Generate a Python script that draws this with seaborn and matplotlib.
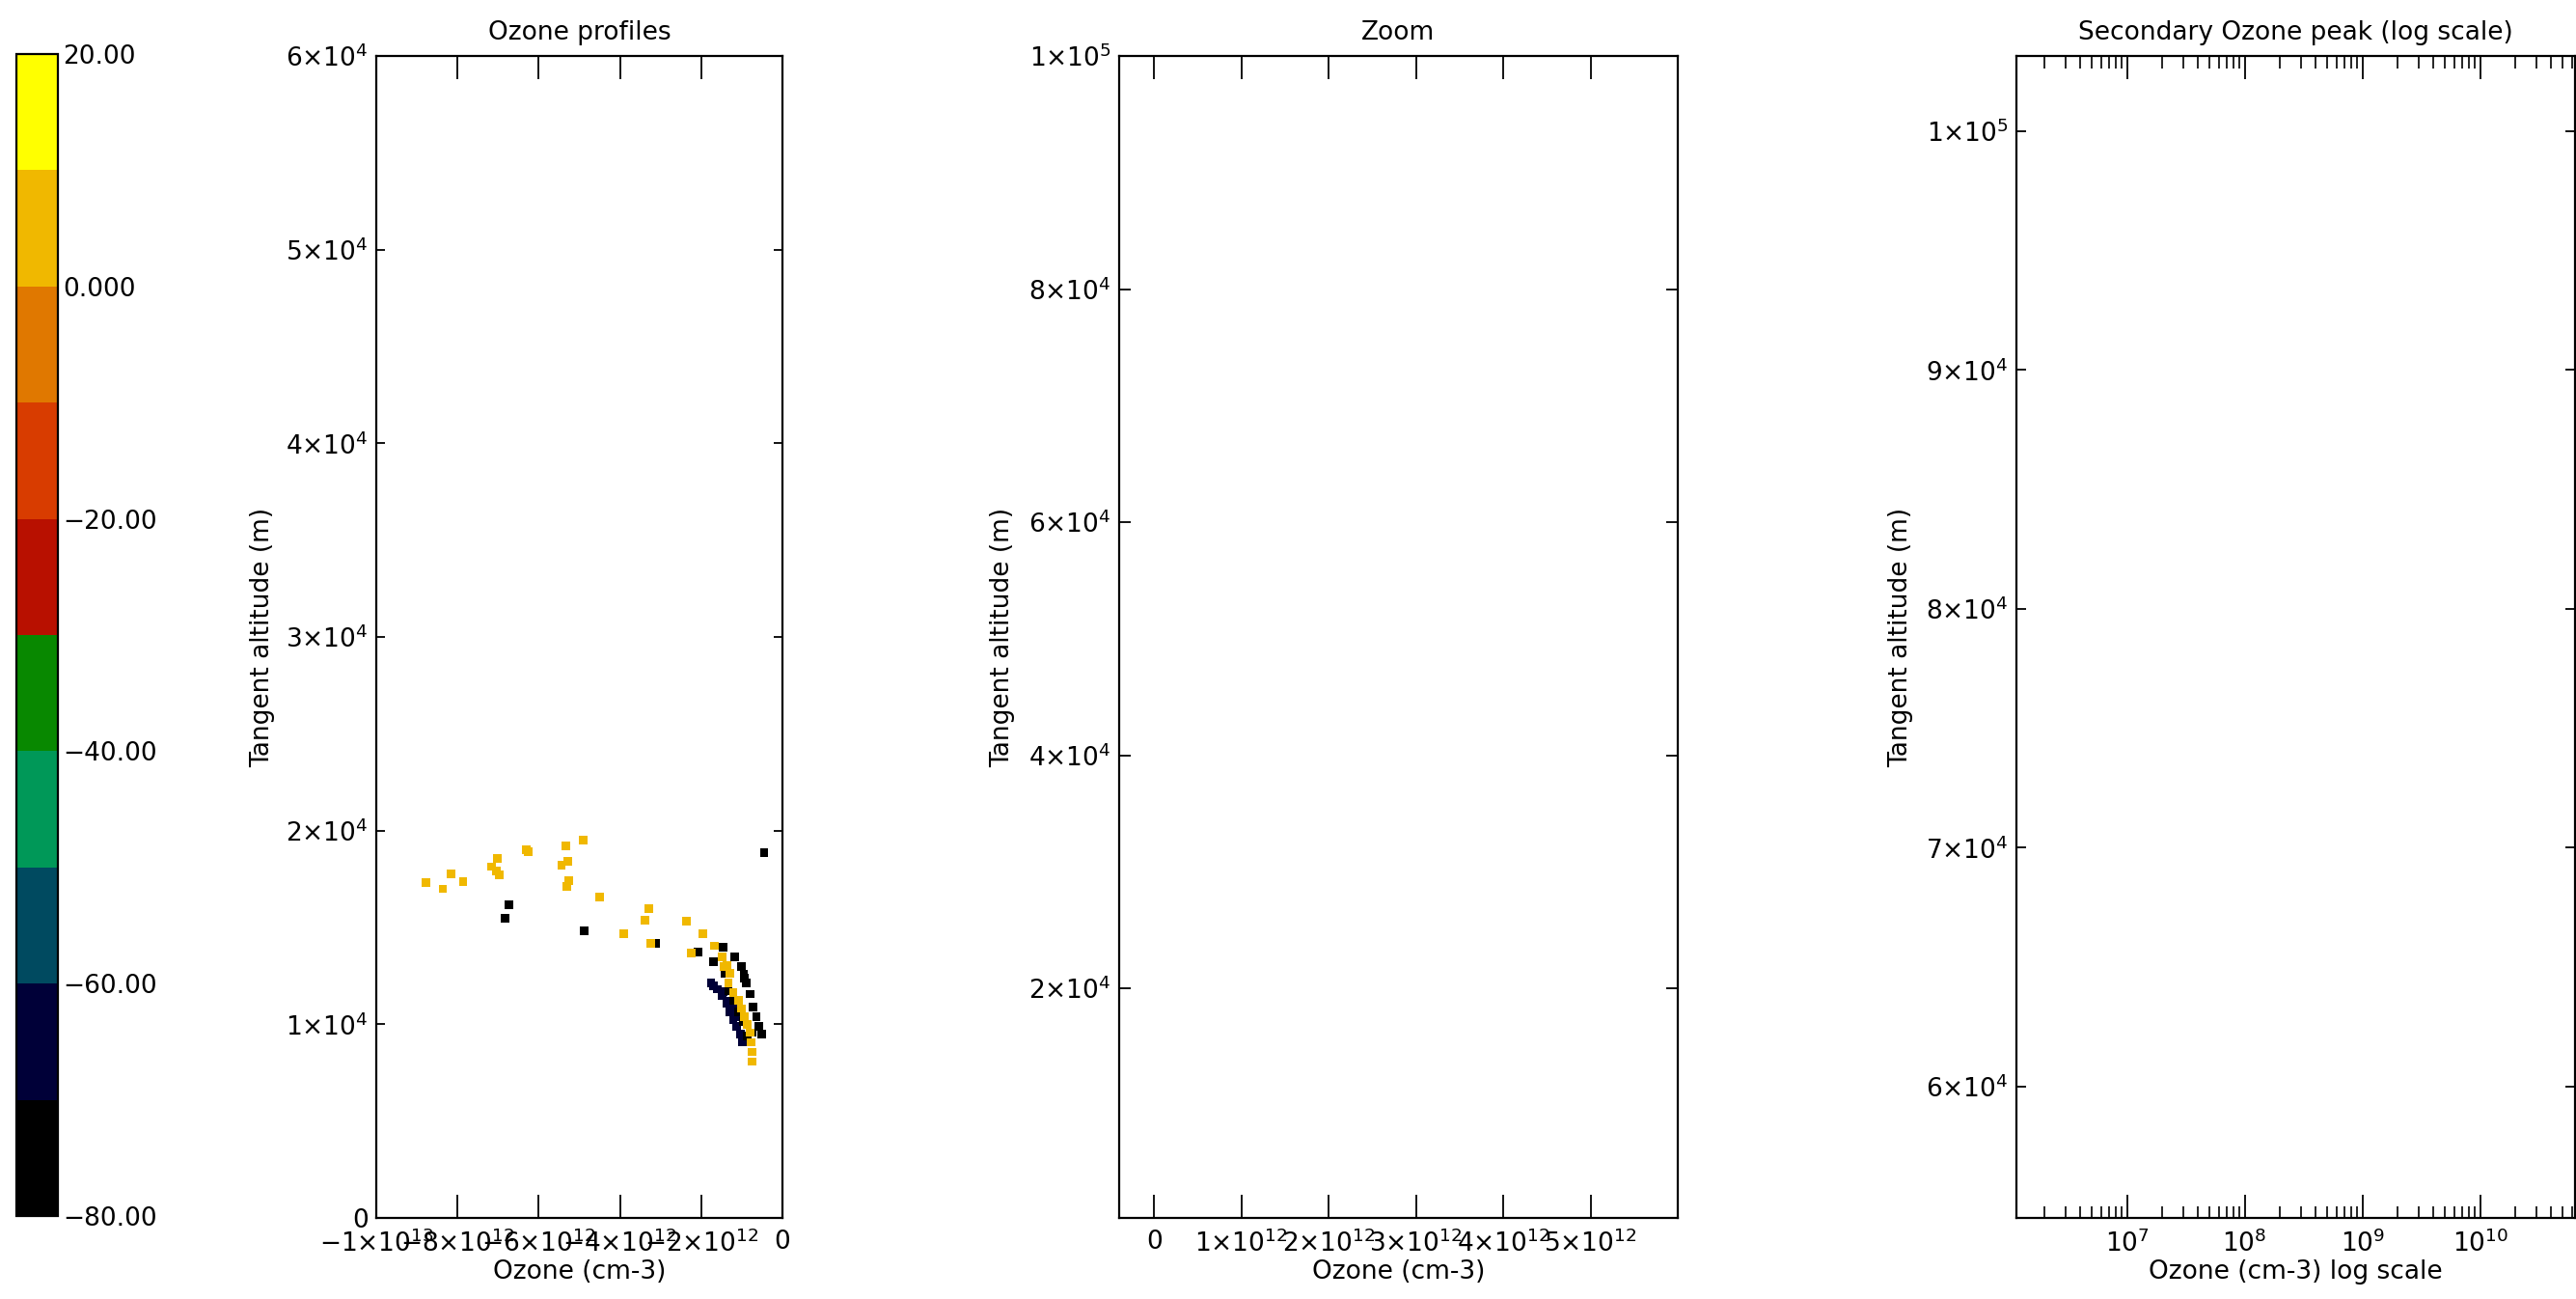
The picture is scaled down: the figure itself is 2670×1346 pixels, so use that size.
"""
plot.py
Ozone profiles coloured by temperature, with a zoom panel and a log-scale
panel for the secondary ozone peak. Writes out.png.
"""

import numpy as np
import pandas as pd
import matplotlib
matplotlib.use("Agg")
import matplotlib.pyplot as plt
import seaborn as sns
from matplotlib.colors import ListedColormap, BoundaryNorm
from matplotlib.cm import ScalarMappable
from matplotlib.ticker import FuncFormatter, FixedLocator, LogLocator, NullFormatter

sns.set_theme(style="ticks", rc={"axes.edgecolor": "black", "axes.linewidth": 1.6,
                                 "xtick.color": "black", "ytick.color": "black",
                                 "text.color": "black", "axes.labelcolor": "black"})
plt.rcParams["font.family"] = ["DejaVu Sans"]
plt.rcParams["mathtext.fontset"] = "dejavusans"

# colour scale: temperature bins
bin_edges = [-80, -70, -60, -50, -40, -30, -20, -10, 0, 10, 20]
bin_colors = ["#000000", "#000038", "#004a60", "#009858", "#088800",
              "#b81000", "#d83c00", "#e07800", "#f0b800", "#ffff00"]
cbar_labels = ["−80.00", "", "−60.00", "", "−40.00", "", "−20.00", "", "0.000", "", "20.00"]

# profile points, ozone in 1e12 cm-3, altitude in 1e4 m
amber_ozone = [-8.78, -8.36, -8.16, -7.86, -7.16, -7.01, -7.05, -6.98, -6.30, -6.26,
               -5.33, -5.44, -5.29, -5.26, -5.30, -4.90, -4.51, -3.90, -3.38, -3.29,
               -3.24, -2.36, -1.96, -1.67, -2.24, -1.49, -1.37, -1.29, -1.33, -1.45,
               -1.21, -1.09, -1.01, -0.93, -0.86, -0.80, -0.78, -0.75, -0.74]
amber_alt = [1.731, 1.699, 1.775, 1.735, 1.814, 1.855, 1.790, 1.770, 1.903, 1.890,
             1.920, 1.823, 1.840, 1.743, 1.711, 1.950, 1.658, 1.469, 1.536, 1.596,
             1.419, 1.533, 1.466, 1.405, 1.369, 1.347, 1.305, 1.264, 1.214, 1.300,
             1.164, 1.122, 1.081, 1.039, 0.998, 0.957, 0.907, 0.857, 0.807]

black_ozone = [-0.45, -6.74, -6.83, -4.88, -3.13, -2.08, -1.47, -1.69, -1.17, -1.01,
               -1.41, -1.33, -1.21, -1.09, -0.97, -0.89, -0.80, -0.72, -0.64, -0.58,
               -0.52, -0.74, -0.86, -0.93, -0.95]
black_alt = [1.885, 1.616, 1.549, 1.483, 1.419, 1.372, 1.397, 1.322, 1.347, 1.297,
             1.264, 1.172, 1.122, 1.064, 1.014, 1.214, 1.156, 1.090, 1.039, 0.989,
             0.948, 0.957, 0.940, 1.239, 1.260]

navy_ozone = [-1.76, -1.70, -1.60, -1.49, -1.37, -1.29, -1.21, -1.13, -1.04, -0.99,
              -1.21, -1.10, -1.45, -1.30]
navy_alt = [1.214, 1.200, 1.181, 1.148, 1.106, 1.064, 1.023, 0.989, 0.948, 0.907,
            1.081, 1.040, 1.170, 1.120]

# temperature of each group (bin centre)
amber_temp = 5
black_temp = -75
navy_temp = -65

W, H = 2670, 1346


def frac(left, right, top, bottom):
    return [left / W, (H - bottom) / H, (right - left) / W, (bottom - top) / H]


def sci_label(v, pos):
    if v == 0:
        return "0"
    e = int(np.floor(np.log10(abs(v)) + 1e-9))
    m = int(round(v / 10**e))
    return r"$%d{\times}10^{%d}$" % (m, e)


def style_axes(ax, xlen, ylen):
    ax.tick_params(which="major", direction="in", top=True, right=True,
                   width=1.3, labelsize=19, pad=9)
    ax.tick_params(axis="x", which="major", length=xlen)
    ax.tick_params(axis="y", which="major", length=ylen, pad=6)
    for sp in ax.spines.values():
        sp.set_linewidth(1.6)
        sp.set_color("black")


def main():
    cmap = ListedColormap(bin_colors)
    norm = BoundaryNorm(bin_edges, cmap.N)

    df = pd.concat([
        pd.DataFrame({"ozone": np.array(navy_ozone) * 1e12,
                      "alt": np.array(navy_alt) * 1e4, "temp": navy_temp}),
        pd.DataFrame({"ozone": np.array(black_ozone) * 1e12,
                      "alt": np.array(black_alt) * 1e4, "temp": black_temp}),
        pd.DataFrame({"ozone": np.array(amber_ozone) * 1e12,
                      "alt": np.array(amber_alt) * 1e4, "temp": amber_temp}),
    ], ignore_index=True)

    fig = plt.figure(figsize=(W / 100, H / 100), dpi=100)
    fig.patch.set_facecolor("white")

    cax = fig.add_axes(frac(17, 60, 56, 1260))
    ax1 = fig.add_axes(frac(390, 811, 58, 1262))
    ax2 = fig.add_axes(frac(1160, 1739, 58, 1262))
    ax3 = fig.add_axes(frac(2090, 2669, 58, 1262))

    # colour bar
    cb = fig.colorbar(ScalarMappable(norm=norm, cmap=cmap), cax=cax, ticks=bin_edges)
    cb.outline.set_linewidth(1.6)
    cb.outline.set_edgecolor("black")
    cax.set_yticklabels(cbar_labels)
    cax.tick_params(direction="in", left=True, right=True, length=5, width=1.2,
                    labelsize=19, pad=4, colors="black")

    # panel 1: profiles
    sns.scatterplot(data=df, x="ozone", y="alt", hue="temp", palette=cmap,
                    hue_norm=norm, marker="s", s=40, linewidth=0, legend=False, ax=ax1)
    ax1.set_xlim(-1e13, 0)
    ax1.set_ylim(0, 6e4)
    ax1.xaxis.set_major_locator(FixedLocator([-1e13, -8e12, -6e12, -4e12, -2e12, 0]))
    ax1.yaxis.set_major_locator(FixedLocator([0, 1e4, 2e4, 3e4, 4e4, 5e4, 6e4]))
    ax1.set_title("Ozone profiles", fontsize=19, pad=12)
    style_axes(ax1, 17, 6.5)

    # panel 2: zoom (empty)
    ax2.set_xlim(-0.4e12, 6.0e12)
    ax2.set_ylim(300, 1e5)
    ax2.xaxis.set_major_locator(FixedLocator([0, 1e12, 2e12, 3e12, 4e12, 5e12]))
    ax2.yaxis.set_major_locator(FixedLocator([2e4, 4e4, 6e4, 8e4, 1e5]))
    ax2.set_title("Zoom", fontsize=19, pad=12)
    style_axes(ax2, 17, 8.3)

    for ax in (ax1, ax2):
        ax.xaxis.set_major_formatter(FuncFormatter(sci_label))
        ax.yaxis.set_major_formatter(FuncFormatter(sci_label))

    # panel 3: secondary peak, log scale (empty)
    ax3.set_xscale("log")
    ax3.set_xlim(1.15e6, 6.4e10)
    ax3.set_ylim(5.45e4, 1.0315e5)
    ax3.xaxis.set_major_locator(LogLocator(base=10, numticks=20))
    ax3.xaxis.set_minor_locator(LogLocator(base=10, subs=np.arange(2, 10), numticks=50))
    ax3.xaxis.set_minor_formatter(NullFormatter())
    ax3.yaxis.set_major_locator(FixedLocator([6e4, 7e4, 8e4, 9e4, 1e5]))
    ax3.yaxis.set_major_formatter(FuncFormatter(sci_label))
    ax3.set_title("Secondary Ozone peak (log scale)", fontsize=19, pad=12)
    style_axes(ax3, 17, 7.5)
    ax3.tick_params(axis="x", which="minor", direction="in", top=True,
                    length=9, width=1.2)

    xlabels = ["Ozone (cm-3)", "Ozone (cm-3)", "Ozone (cm-3) log scale"]
    ylab_x = [-0.249, -0.1865, -0.185]
    for ax, xl, yx in zip((ax1, ax2, ax3), xlabels, ylab_x):
        ax.set_xlabel(xl, fontsize=19)
        ax.set_ylabel("Tangent altitude (m)", fontsize=19)
        ax.xaxis.set_label_coords(0.5, -0.036)
        ax.yaxis.set_label_coords(yx, 0.5)
        ax.set_facecolor("white")

    fig.savefig("out.png", dpi=100, facecolor="white")
    plt.close(fig)


if __name__ == "__main__":
    main()
